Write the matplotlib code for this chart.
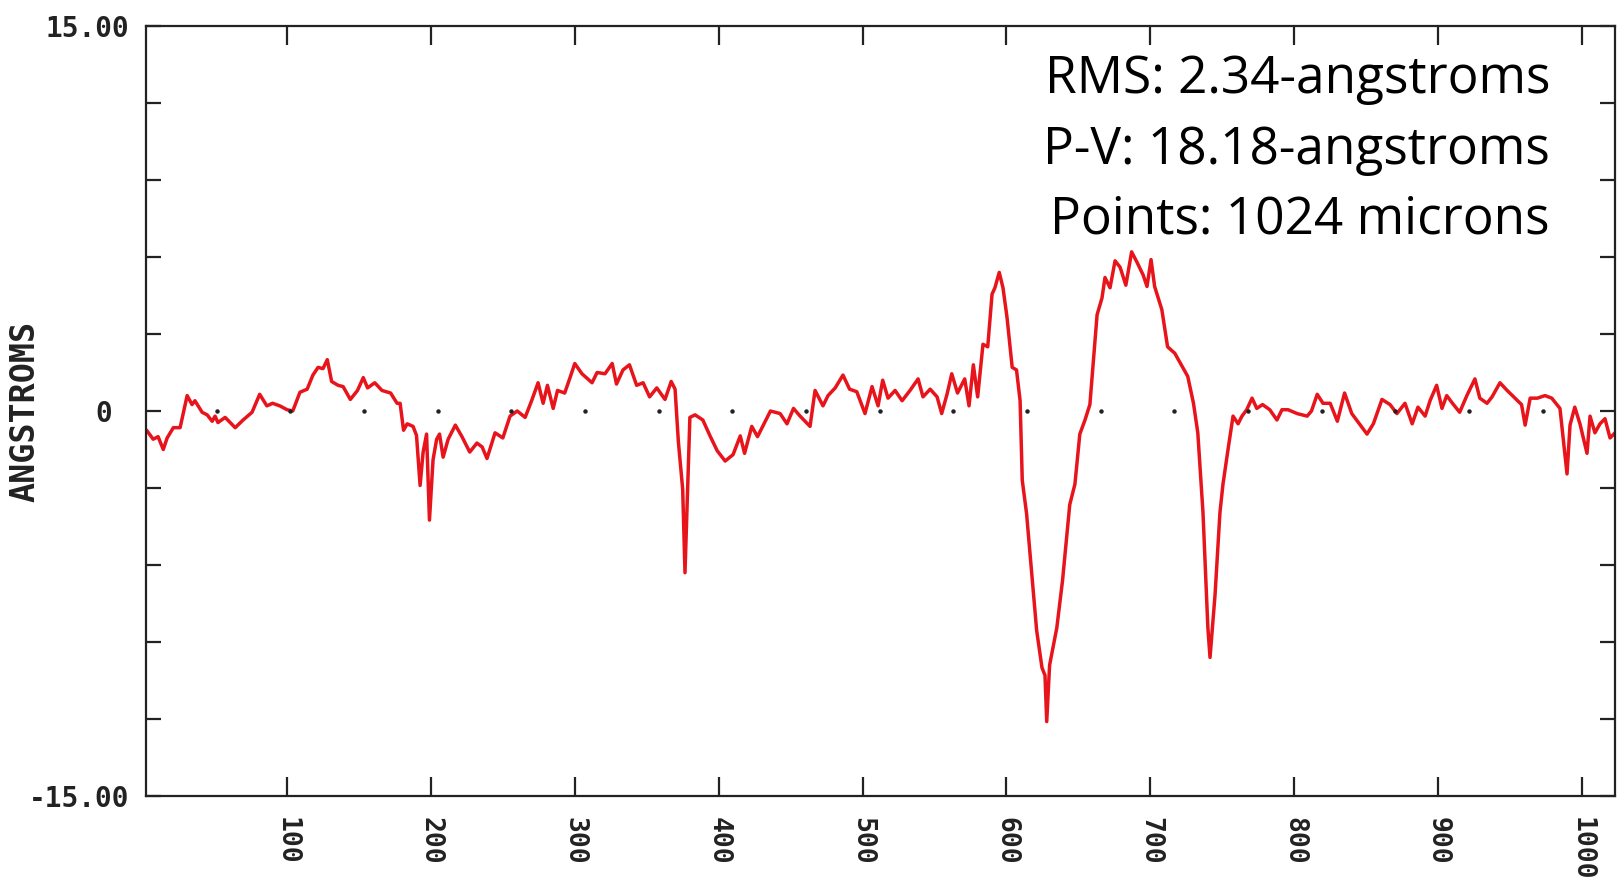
"""
Surface profile trace (profilometer scan), redrawn from a scanned chart.
Writes out.png at 1624x883.
"""
import matplotlib
matplotlib.use("Agg")
import matplotlib.pyplot as plt
import numpy as np

# position along the scan (same units as the x tick labels)
pos = [
    2.8, 7, 10.4, 14, 16.7, 21, 25.7, 30.6, 34, 36, 41, 44.5, 48, 50, 52, 57,
    64, 69.5, 75.7, 81, 86, 90, 95, 100, 104, 109, 114, 118, 121.6, 125, 128,
    131, 135.5, 139, 144, 149, 153, 156, 161, 166, 172, 176.5, 178.6, 181,
    183.5, 187.6, 190, 192.5, 194.6, 197, 199, 201.5, 204, 206, 208.5, 212,
    217, 221.6, 227, 232, 235.6, 239, 244.6, 250, 255, 260, 265.5, 270, 274.5,
    278, 281, 285, 288, 293, 296.7, 300, 305, 312, 315.5, 321, 326, 329, 333.5,
    338, 343, 347.5, 352, 357, 362.7, 367, 369.7, 372, 375, 376.6, 378.7, 380,
    383.6, 389, 394, 399, 404.5, 410, 415, 418, 423, 427, 436, 442.7, 447.5,
    452, 456.6, 463.5, 467, 472.5, 476, 481, 486.4, 491, 496, 501.7, 506.6,
    510.8, 514, 517.7, 522.6, 527.5, 533, 538.6, 542, 547, 551.8, 555, 558.7,
    562, 566, 571, 574, 577, 580, 583.7, 587, 590, 592, 595, 597.6, 600.4, 604,
    607, 609.5, 611, 614, 618, 621, 624.7, 626.8, 628, 630, 635, 639, 644,
    647.6, 651, 654.6, 658, 663, 666.4, 668.5, 672, 675.5, 679, 683, 687, 690.7,
    695, 697.7, 700.5, 703, 708, 712, 717, 722, 726, 730, 733, 736.6, 740,
    741.5, 745, 748.4, 750.5, 754, 757.5, 761, 763.7, 767, 770.7, 774, 778, 783,
    788, 791.5, 795.7, 802, 809, 812, 816, 820, 825, 830, 835, 840, 844, 850.6,
    855, 861, 866.6, 871.4, 877, 882, 886, 891, 894.4, 899, 902.7, 906, 910,
    915, 920, 925.6, 929, 934, 937.5, 943, 948, 953.5, 958, 960.5, 964, 969,
    974.3, 979, 984.7, 989.6, 991.7, 995, 998.6, 1003.5, 1005.6, 1009, 1012.5,
    1016, 1019.5, 1023,
]

# height in angstroms
height = [
    -0.78, -1.1, -1.0, -1.5, -1.05, -0.65, -0.65, 0.6, 0.25, 0.4, -0.05, -0.15,
    -0.4, -0.2, -0.45, -0.25, -0.65, -0.35, -0.05, 0.65, 0.2, 0.3, 0.2, 0.05,
    0.0, 0.73, 0.85, 1.4, 1.7, 1.65, 2.0, 1.15, 1.0, 0.95, 0.45, 0.8, 1.3, 0.9,
    1.1, 0.8, 0.7, 0.3, 0.3, -0.75,
    -0.5, -0.6, -0.95, -2.9, -1.6, -0.9, -4.25, -1.9, -1.1, -0.9, -1.8, -1.1,
    -0.55, -1.0, -1.6, -1.25, -1.4, -1.85, -0.85, -1.05, -0.2, 0.0, -0.25, 0.4,
    1.1, 0.3, 1.0, 0.1, 0.8, 0.7, 1.3, 1.85, 1.45, 1.1, 1.5, 1.45, 1.85, 1.05,
    1.6, 1.8, 1.0, 1.1, 0.55, 0.9, 0.45, 1.15, 0.85, -1.2, -3.05, -6.3, -2.6,
    -0.25,
    -0.15, -0.35, -0.97, -1.55, -1.95, -1.7, -0.97, -1.65, -0.6, -1.0, 0.0,
    -0.1, -0.5, 0.1, -0.2, -0.6, 0.8, 0.2, 0.6, 0.9, 1.4, 0.85, 0.75, -0.1,
    0.95, 0.2, 1.2, 0.5, 0.8, 0.4, 0.8, 1.25, 0.55, 0.85, 0.55, -0.1, 0.65,
    1.45, 0.7, 1.25, 0.2, 1.8, 0.55, 2.6, 2.5, 4.55, 4.8, 5.4, 4.8, 3.65, 1.7,
    1.6, 0.4, -2.7, -4.0, -6.6, -8.55, -10.0, -10.3, -12.1, -9.9, -8.45, -6.6,
    -3.65, -2.85, -0.9, -0.35, 0.25, 3.75, 4.4, 5.2, 4.8, 5.85, 5.6, 4.9, 6.2,
    5.8, 5.3, 4.85, 5.9, 4.85, 3.95, 2.5, 2.25, 1.75, 1.35, 0.3, -0.85, -3.95,
    -8.45, -9.6, -7.15, -3.95, -2.85, -1.5, -0.2, -0.5, -0.2, 0.05, 0.5, 0.1,
    0.25, 0.05, -0.35, 0.05, 0.05, -0.1, -0.2, 0.0, 0.65, 0.3, 0.3, -0.4, 0.7,
    -0.1, -0.4, -0.9, -0.5, 0.45, 0.25, -0.1, 0.3, -0.5, 0.15, -0.2, 0.4, 1.0,
    0.1, 0.6, 0.3, -0.05, 0.6, 1.25, 0.5, 0.3, 0.55, 1.1, 0.8, 0.5, 0.25, -0.55,
    0.5, 0.5, 0.6, 0.5, 0.1, -2.45, -0.55, 0.15, -0.5, -1.65, -0.2, -0.85,
    -0.5, -0.3, -1.05, -0.85,
]

x_ticks = [100, 200, 300, 400, 500, 600, 700, 800, 900, 1000]
x_tick_labels = ["100", "200", "300", "400", "500", "600", "700", "800", "900", "1000"]
y_ticks = [-15, -12, -9, -6, -3, 0, 3, 6, 9, 12, 15]
y_tick_labels = ["-15.00", "", "", "", "", "0 ", "", "", "", "", "15.00"]

stats_lines = [
    "RMS: 2.34-angstroms",
    "P-V: 18.18-angstroms",
    "Points: 1024 microns",
]

# zero-line reference dots printed by the instrument
ref_dots = np.arange(1, 20) * 51.2

fig = plt.figure(figsize=(16.24, 8.83), dpi=100)
ax = fig.add_axes([0.0899, 0.0985, 0.9046, 0.8721])

ax.plot(pos, height, color="#e8141c", lw=2.5, solid_joinstyle="round")
ax.plot(ref_dots, np.zeros_like(ref_dots), ls="none", marker="o",
        ms=2.2, color="#222222")

ax.set_xlim(2, 1023)
ax.set_ylim(-15, 15)

mono = "DejaVu Sans Mono"
ax.set_xticks(x_ticks)
ax.set_xticklabels(x_tick_labels, rotation=270, family=mono,
                   fontweight="bold", fontsize=19, color="#222222")
ax.set_yticks(y_ticks)
ax.set_yticklabels(y_tick_labels, family=mono, fontweight="bold",
                   fontsize=20, color="#222222")

ax.tick_params(axis="x", direction="in", top=True, length=14, width=1.6,
               pad=15, color="#222222")
ax.tick_params(axis="y", direction="in", right=True, length=11, width=1.6,
               pad=12, color="#222222")
for lab in ax.get_xticklabels():
    lab.set_verticalalignment("top")

for sp in ax.spines.values():
    sp.set_linewidth(1.6)
    sp.set_color("#222222")

ax.set_ylabel("ANGSTROMS", family=mono, fontsize=24, fontweight="bold",
              color="#222222")
ax.yaxis.set_label_coords(-0.071, 0.5)

for i, line in enumerate(stats_lines):
    fig.text(0.9544, 0.9094 - i * 0.0793, line, ha="right", va="center",
             family="Open Sans", fontsize=37, color="black")

fig.savefig("out.png", dpi=100)
